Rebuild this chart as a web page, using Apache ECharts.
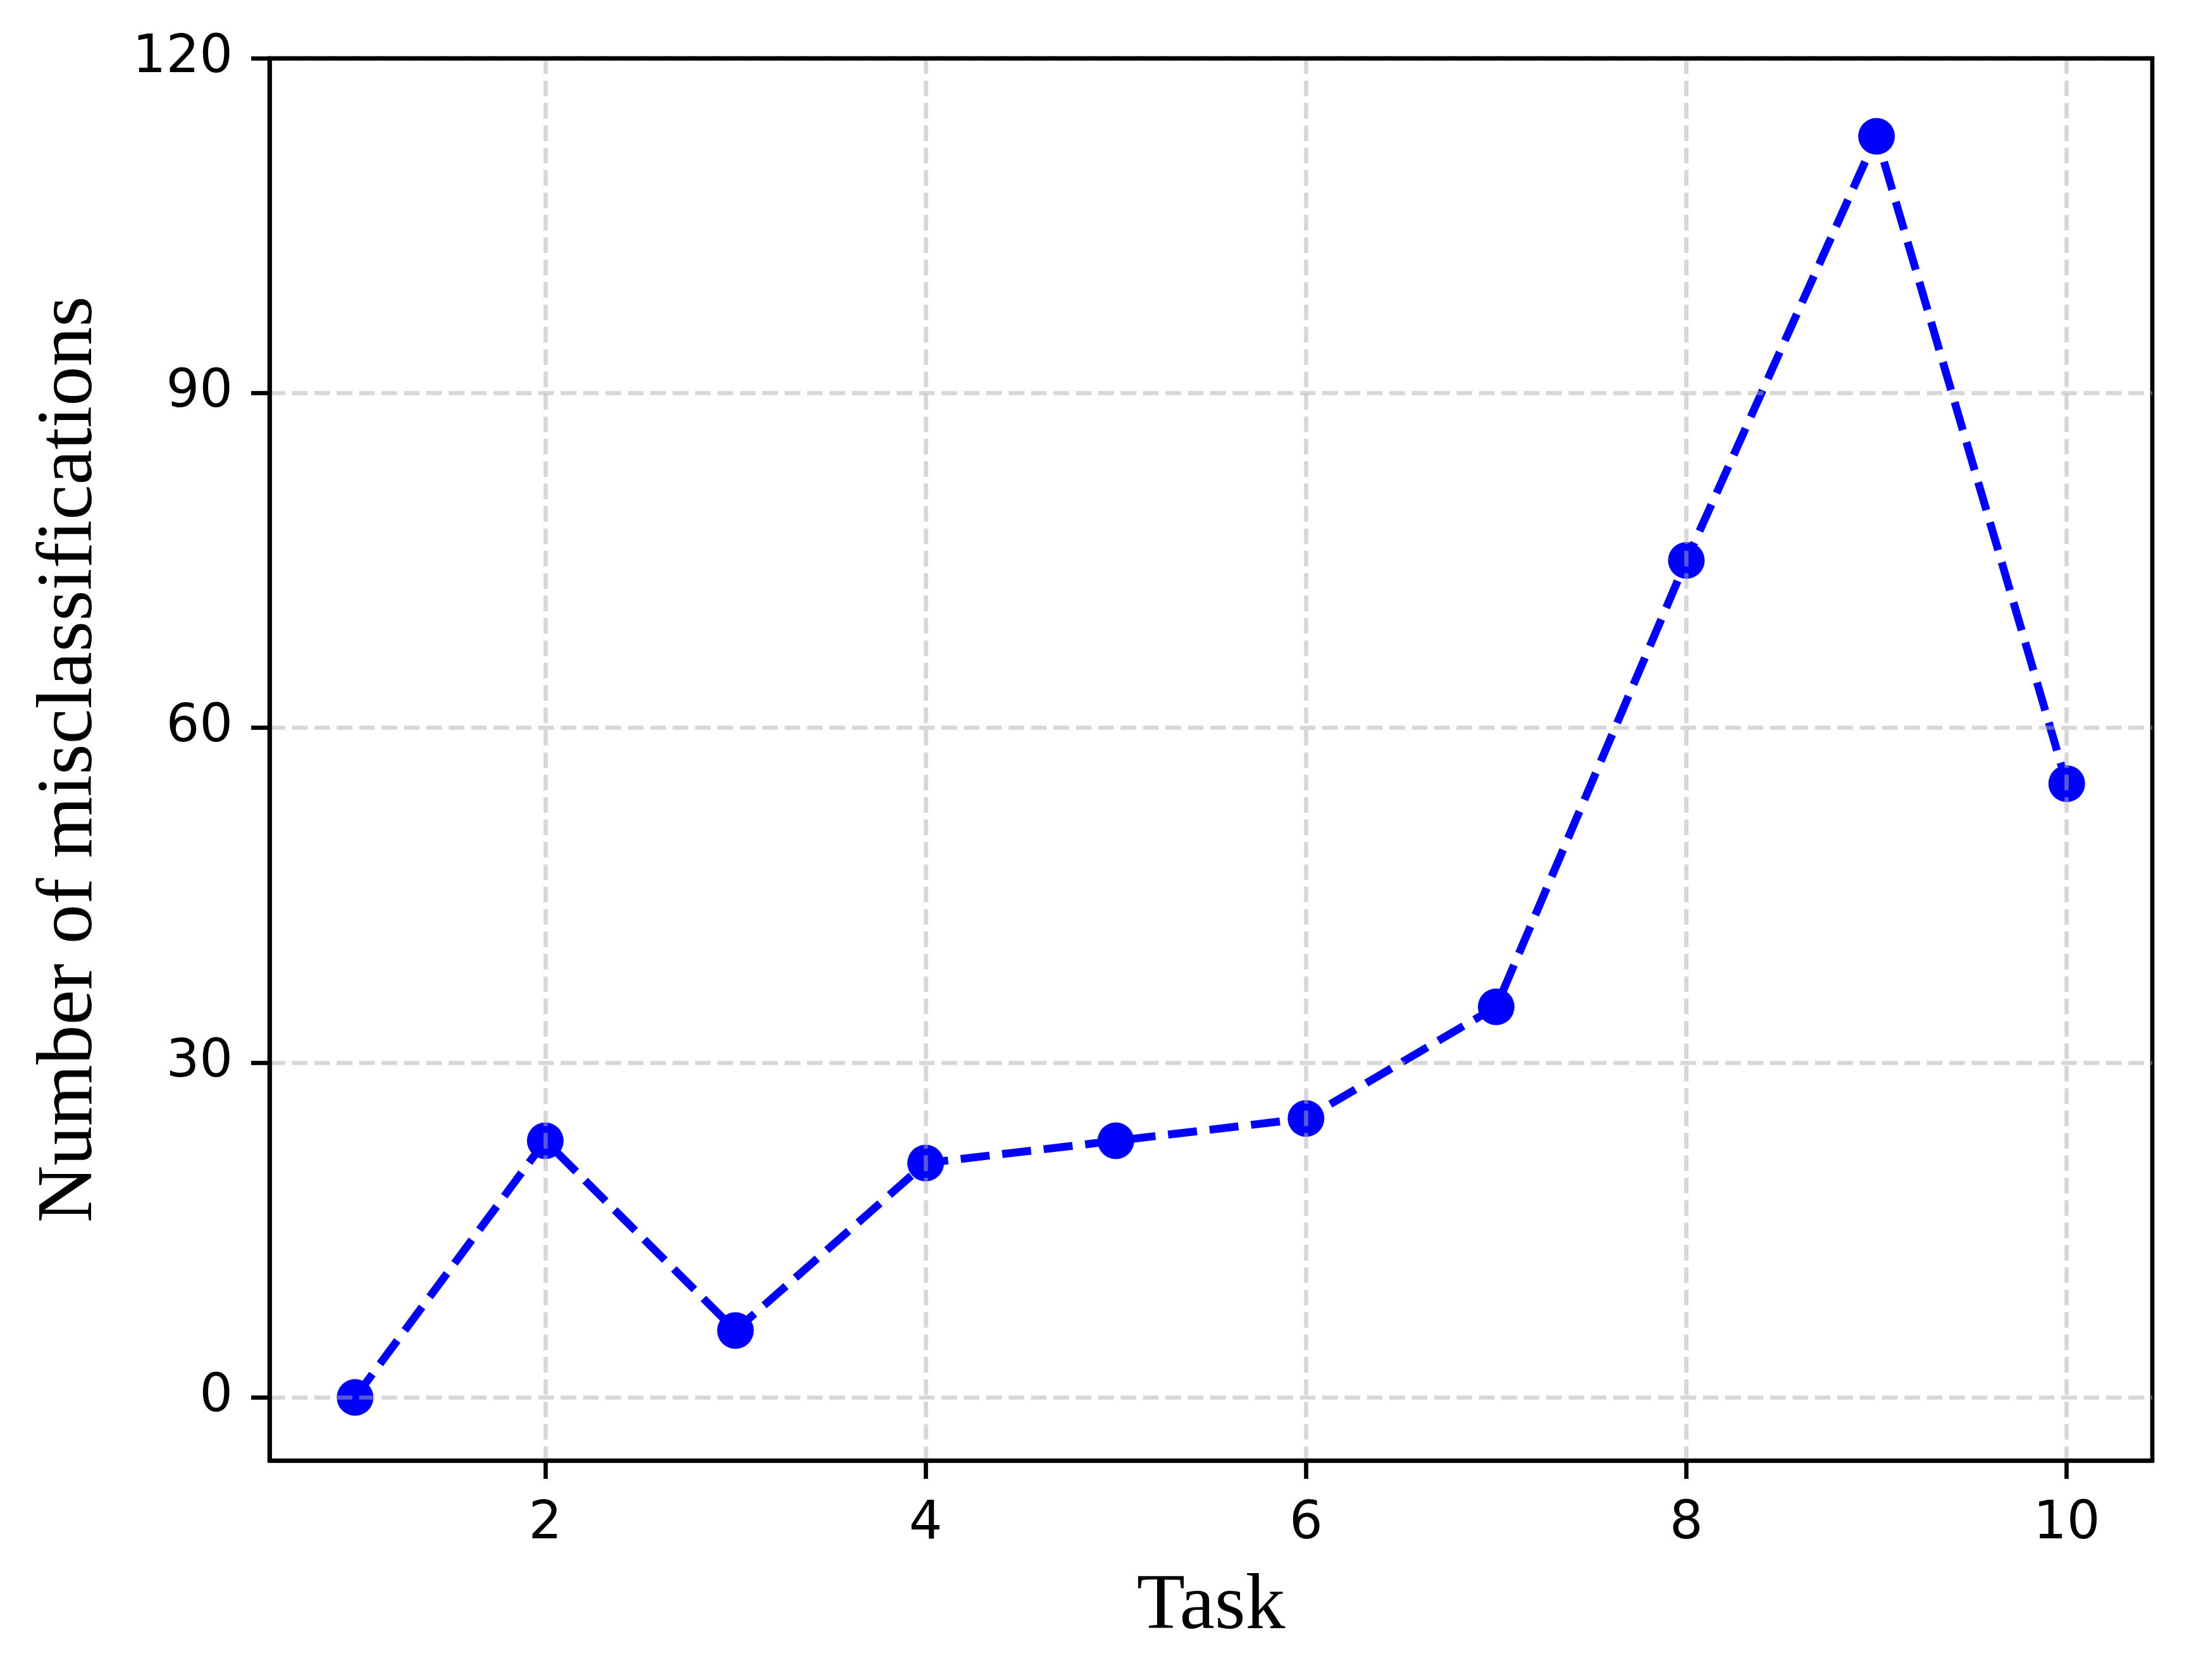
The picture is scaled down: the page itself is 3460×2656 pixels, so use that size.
<!DOCTYPE html>
<html>
<head>
<meta charset="utf-8">
<script src="https://cdn.jsdelivr.net/npm/echarts@6/dist/echarts.min.js"></script>
<style>
  html, body { margin: 0; padding: 0; background: #fff; }
  #chart { width: 3460px; height: 2656px; }
</style>
</head>
<body>
<div id="chart"></div>
<script>
const tasks = [1, 2, 3, 4, 5, 6, 7, 8, 9, 10]
const misclassifications = [0, 23, 6, 21, 23, 25, 35, 75, 113, 55]
const xTicks = [2, 4, 6, 8, 10]
const yTicks = [0, 30, 60, 90, 120]

const gridColor = 'rgba(176, 176, 176, 0.5)'
const tickFont = { fontFamily: 'DejaVu Sans', fontSize: 83, color: '#000' }
const nameFont = { fontFamily: 'Liberation Serif', fontSize: 125, color: '#000' }
const spine = { show: true, onZero: false, lineStyle: { color: '#000', width: 6.7 } }

const chart = echarts.init(document.getElementById('chart'), null, { renderer: 'canvas' })

chart.setOption({
  animation: false,
  backgroundColor: '#fff',
  grid: {
    left: 426,
    right: 58,
    top: 92,
    bottom: 347,
    show: true,
    borderColor: '#000',
    borderWidth: 6.7,
    outerBoundsMode: 'none'
  },
  xAxis: [{
    type: 'value',
    min: 0.55,
    max: 10.45,
    z: 5,
    name: 'Task',
    nameLocation: 'middle',
    nameGap: 170,
    nameTextStyle: nameFont,
    axisLine: spine,
    axisTick: { show: true, length: 29, lineStyle: { color: '#000', width: 6.7 }, customValues: xTicks },
    axisLabel: { ...tickFont, margin: 60, customValues: xTicks },
    splitLine: { show: true, lineStyle: { color: gridColor, width: 6.7, type: [24.7, 10.7] } }
  }, {
    // top spine, drawn above the grid lines
    type: 'value',
    position: 'top',
    min: 0.55,
    max: 10.45,
    z: 6,
    axisLine: spine,
    axisTick: { show: false },
    axisLabel: { show: false },
    splitLine: { show: false }
  }],
  yAxis: [{
    type: 'value',
    min: -5.65,
    max: 120,
    z: 5,
    name: 'Number of misclassifications',
    nameLocation: 'middle',
    nameGap: 252,
    nameTextStyle: nameFont,
    axisLine: spine,
    axisTick: { show: true, length: 29, lineStyle: { color: '#000', width: 6.7 }, customValues: yTicks },
    axisLabel: { ...tickFont, margin: 58, customValues: yTicks },
    splitLine: { show: true, lineStyle: { color: gridColor, width: 6.7, type: [24.7, 10.7] } }
  }],
  series: [{
    type: 'line',
    data: tasks.map((t, i) => [t, misclassifications[i]]),
    symbol: 'circle',
    symbolSize: 58,
    showSymbol: true,
    itemStyle: { color: '#0000ff', borderWidth: 0 },
    lineStyle: { color: '#0000ff', width: 12.5, type: [46, 20], cap: 'butt' },
    emphasis: { disabled: true }
  }]
})
</script>
</body>
</html>
